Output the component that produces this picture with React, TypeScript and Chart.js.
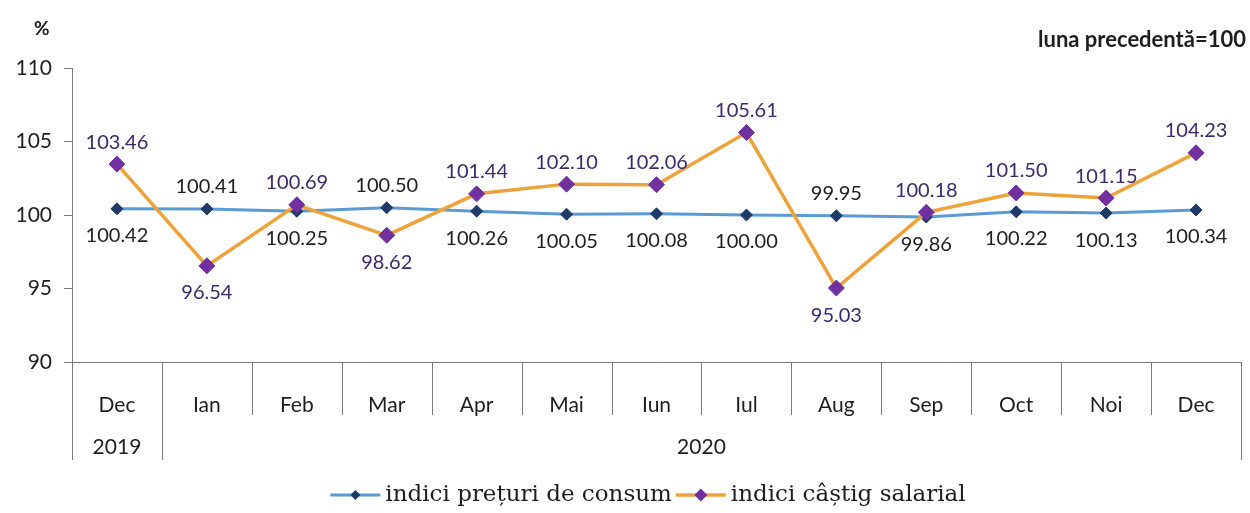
import React, { useEffect, useRef } from "react";
import { Chart, registerables } from "chart.js";

Chart.register(...registerables);

const categories = ["Dec", "Ian", "Feb", "Mar", "Apr", "Mai", "Iun", "Iul", "Aug", "Sep", "Oct", "Noi", "Dec"];
const yearLabels = ["2019", "2020"];
const yearSpans = [1, 12];
const cpiValues = [100.42, 100.41, 100.25, 100.5, 100.26, 100.05, 100.08, 100.0, 99.95, 99.86, 100.22, 100.13, 100.34];
const wageValues = [103.46, 96.54, 100.69, 98.62, 101.44, 102.1, 102.06, 105.61, 95.03, 100.18, 101.5, 101.15, 104.23];
const seriesNames = ["indici prețuri de consum", "indici câștig salarial"];
const unitLabel = "%";
const baseNote = "luna precedentă=100";

const LABEL_FONT = "Lato, 'Open Sans', sans-serif";
const AXIS_COLOR = "#7a7a7a";
const CPI_LINE = "#5b9bd5";
const CPI_MARK = "#1f3a68";
const WAGE_LINE = "#eda23a";
const WAGE_MARK = "#7030a0";

const overlayPlugin = {
  id: "overlay",
  afterDatasetsDraw(chart: any) {
    const ctx = chart.ctx;
    const metas = [chart.getDatasetMeta(0), chart.getDatasetMeta(1)];
    const series = [cpiValues, wageValues];
    const colors = ["#1e1e1e", "#3b2a6b"];
    ctx.save();
    ctx.font = `20px ${LABEL_FONT}`;
    ctx.textAlign = "center";
    ctx.textBaseline = "middle";
    for (let s = 0; s < 2; s++) {
      const other = series[1 - s];
      metas[s].data.forEach((pt: any, i: number) => {
        const v = series[s][i];
        const above = v > other[i];
        ctx.fillStyle = colors[s];
        const y = above ? pt.y - 22 : pt.y + 27;
        ctx.fillText(v.toFixed(2), pt.x, y);
      });
    }
    ctx.restore();
  },
  afterDraw(chart: any) {
    const ctx = chart.ctx;
    const area = chart.chartArea;
    const n = categories.length;
    const w = (area.right - area.left) / n;
    ctx.save();
    // x axis line
    ctx.strokeStyle = AXIS_COLOR;
    ctx.lineWidth = 1;
    ctx.beginPath();
    ctx.moveTo(area.left, area.bottom + 0.5);
    ctx.lineTo(area.right, area.bottom + 0.5);
    ctx.stroke();
    // dividers
    const groupEdges = new Set<number>();
    let acc = 0;
    groupEdges.add(0);
    yearSpans.forEach((s) => {
      acc += s;
      groupEdges.add(acc);
    });
    for (let i = 0; i <= n; i++) {
      const x = Math.round(area.left + i * w) + 0.5;
      const len = groupEdges.has(i) ? 98 : 53;
      ctx.beginPath();
      ctx.moveTo(x, area.bottom);
      ctx.lineTo(x, area.bottom + len);
      ctx.stroke();
    }
    // month labels
    ctx.fillStyle = "#1e1e1e";
    ctx.font = `21px ${LABEL_FONT}`;
    ctx.textAlign = "center";
    ctx.textBaseline = "middle";
    categories.forEach((c, i) => {
      ctx.fillText(c, area.left + (i + 0.5) * w, area.bottom + 43);
    });
    // year labels
    let start = 0;
    yearLabels.forEach((lab, gi) => {
      const span = yearSpans[gi];
      const cx = area.left + (start + span / 2) * w;
      ctx.fillText(lab, cx, area.bottom + 85);
      start += span;
    });
    // unit and note
    ctx.font = `bold 19px ${LABEL_FONT}`;
    ctx.textAlign = "left";
    ctx.fillText(unitLabel, 34, 29);
    ctx.font = `bold 22px ${LABEL_FONT}`;
    ctx.textAlign = "right";
    ctx.fillText(baseNote, 1246, 40);
    // legend
    ctx.font = `23px 'DejaVu Serif', serif`;
    ctx.textAlign = "left";
    const segW = 50;
    const gapText = 5;
    const gapItems = 4;
    const tw0 = ctx.measureText(seriesNames[0]).width;
    const tw1 = ctx.measureText(seriesNames[1]).width;
    const total = segW + gapText + tw0 + gapItems + segW + gapText + tw1;
    let x = 648 - total / 2;
    const ly = 495;
    const items = [
      { line: CPI_LINE, mark: CPI_MARK, r: 5, text: seriesNames[0], tw: tw0, lw: 3 },
      { line: WAGE_LINE, mark: WAGE_MARK, r: 6.5, text: seriesNames[1], tw: tw1, lw: 3.5 },
    ];
    items.forEach((it) => {
      ctx.strokeStyle = it.line;
      ctx.lineWidth = it.lw;
      ctx.beginPath();
      ctx.moveTo(x, ly);
      ctx.lineTo(x + segW, ly);
      ctx.stroke();
      const mx = x + segW / 2;
      ctx.fillStyle = it.mark;
      ctx.beginPath();
      ctx.moveTo(mx, ly - it.r);
      ctx.lineTo(mx + it.r, ly);
      ctx.lineTo(mx, ly + it.r);
      ctx.lineTo(mx - it.r, ly);
      ctx.closePath();
      ctx.fill();
      ctx.fillStyle = "#1e1e1e";
      ctx.fillText(it.text, x + segW + gapText, ly);
      x += segW + gapText + it.tw + gapItems;
    });
    ctx.restore();
  },
};

export default function App() {
  const canvasRef = useRef<HTMLCanvasElement | null>(null);

  useEffect(() => {
    if (!canvasRef.current) return;
    const chart = new Chart(canvasRef.current, {
      type: "line",
      data: {
        labels: categories,
        datasets: [
          {
            label: seriesNames[0],
            data: cpiValues,
            borderColor: CPI_LINE,
            backgroundColor: CPI_MARK,
            borderWidth: 3,
            pointStyle: "rectRot",
            pointRadius: 6,
            pointBackgroundColor: CPI_MARK,
            pointBorderColor: CPI_MARK,
            pointBorderWidth: 1,
            tension: 0,
            order: 1,
          },
          {
            label: seriesNames[1],
            data: wageValues,
            borderColor: WAGE_LINE,
            backgroundColor: WAGE_MARK,
            borderWidth: 3.5,
            pointStyle: "rectRot",
            pointRadius: 8,
            pointBackgroundColor: WAGE_MARK,
            pointBorderColor: WAGE_MARK,
            pointBorderWidth: 1,
            tension: 0,
            order: 0,
          },
        ],
      },
      options: {
        responsive: false,
        animation: false,
        layout: { padding: { left: 0, top: 68, right: 7, bottom: 151 } },
        plugins: { legend: { display: false }, tooltip: { enabled: false } },
        scales: {
          x: { type: "category", display: false, offset: true },
          y: {
            min: 90,
            max: 110,
            afterFit: (scale: any) => {
              scale.width = 72;
            },
            ticks: {
              stepSize: 5,
              padding: 12,
              color: "#1e1e1e",
              font: { family: LABEL_FONT, size: 21 },
            },
            grid: {
              drawOnChartArea: false,
              drawTicks: true,
              tickLength: 8,
              color: AXIS_COLOR,
            },
            border: { display: true, color: AXIS_COLOR },
          },
        },
      },
      plugins: [overlayPlugin],
    });
    return () => chart.destroy();
  }, []);

  return (
    <div style={{ position: "absolute", left: 0, top: 0, width: 1250, height: 513, background: "#fff" }}>
      <canvas ref={canvasRef} width={1250} height={513} style={{ display: "block" }} />
    </div>
  );
}
